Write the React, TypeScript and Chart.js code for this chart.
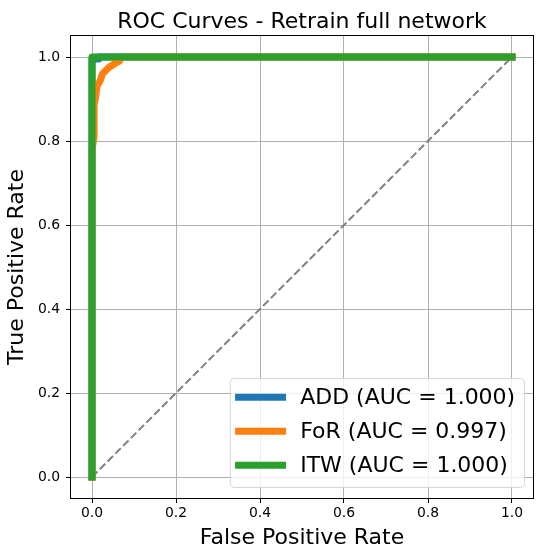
import { useEffect, useRef } from "react";
import { Chart, registerables } from "chart.js";

Chart.register(...registerables);

// Text
const chartTitle = "ROC Curves - Retrain full network";
const xAxisLabel = "False Positive Rate";
const yAxisLabel = "True Positive Rate";
const tickValues = [0, 0.2, 0.4, 0.6, 0.8, 1.0];

// Series meta
const seriesNames = ["ADD", "FoR", "ITW"];
const seriesAuc = [1.0, 0.997, 1.0];
const seriesColors = ["#1f77b4", "#ff7f0e", "#2ca02c"];

// ROC points (false positive rate, true positive rate)
const addFpr = [0, 0, 0.016, 0.016, 1];
const addTpr = [0, 0.995, 0.995, 1, 1];
const forFpr = [0, 0, 0.005, 0.005, 0.008, 0.012, 0.02, 0.025, 0.04, 0.055, 0.065, 0.07, 1];
const forTpr = [0, 0.78, 0.81, 0.886, 0.9, 0.93, 0.945, 0.96, 0.975, 0.985, 0.99, 1, 1];
const itwFpr = [0, 0, 1];
const itwTpr = [0, 1, 1];
const chanceFpr = [0, 1];
const chanceTpr = [0, 1];

const FONT = "'DejaVu Sans', sans-serif";

const zip = (xs: number[], ys: number[]) => xs.map((x, i) => ({ x, y: ys[i] }));

const framePlugin = {
  id: "frame",
  afterDatasetsDraw(chart: any) {
    const { ctx, chartArea: a } = chart;
    ctx.save();
    ctx.strokeStyle = "#000";
    ctx.lineWidth = 1;
    const l = Math.round(a.left) - 0.5;
    const t = Math.round(a.top) - 0.5;
    const r = Math.round(a.right) + 0.5;
    const b = Math.round(a.bottom) + 0.5;
    ctx.strokeRect(l, t, r - l, b - t);
    ctx.restore();
  },
};

const titlePlugin = {
  id: "plotTitle",
  afterDraw(chart: any) {
    const { ctx, chartArea: a } = chart;
    ctx.save();
    ctx.font = `22px ${FONT}`;
    ctx.fillStyle = "#000";
    ctx.textAlign = "center";
    ctx.textBaseline = "alphabetic";
    ctx.fillText(chartTitle, (a.left + a.right) / 2, a.top - 8.5);
    ctx.restore();
  },
};

const legendPlugin = {
  id: "rocLegend",
  afterDraw(chart: any) {
    const { ctx, chartArea: a } = chart;
    const items = chart.data.datasets.filter((d: any) => d.legendText);
    items.sort((p: any, q: any) => p.legendIndex - q.legendIndex);
    const fs = 22;
    const pad = 0.4 * fs;
    const handleLen = 2 * fs;
    const textPad = 0.8 * fs;
    const rowStep = 34;
    const textH = 23.5;
    ctx.save();
    ctx.font = `${fs}px ${FONT}`;
    const maxW = Math.max(...items.map((d: any) => ctx.measureText(d.legendText).width));
    const width = pad + handleLen + textPad + maxW + pad;
    const height = 2 * pad + (items.length - 1) * rowStep + textH;
    const right = a.right - 9;
    const bottom = a.bottom - 11;
    const left = right - width;
    const top = bottom - height;

    ctx.beginPath();
    ctx.roundRect(left + 0.5, top + 0.5, width, height, 4);
    ctx.fillStyle = "rgba(255,255,255,0.8)";
    ctx.fill();
    ctx.strokeStyle = "rgba(204,204,204,0.8)";
    ctx.lineWidth = 1;
    ctx.stroke();

    items.forEach((d: any, i: number) => {
      const cy = top + pad + 10.5 + i * rowStep;
      ctx.beginPath();
      ctx.strokeStyle = d.borderColor;
      ctx.lineWidth = 7;
      ctx.lineCap = "square";
      ctx.moveTo(left + pad, cy);
      ctx.lineTo(left + pad + handleLen, cy);
      ctx.stroke();
      ctx.fillStyle = "#000";
      ctx.textAlign = "left";
      ctx.textBaseline = "middle";
      ctx.fillText(d.legendText, left + pad + handleLen + textPad, cy + 1);
    });
    ctx.restore();
  },
};

export default function App() {
  const ref = useRef<HTMLCanvasElement>(null);

  useEffect(() => {
    document.body.style.margin = "0";
    const tickFont = { family: FONT, size: 13.9 };
    const seriesData = [zip(addFpr, addTpr), zip(forFpr, forTpr), zip(itwFpr, itwTpr)];

    const datasets: any[] = seriesNames.map((name, i) => ({
      label: name,
      legendText: `${name} (AUC = ${seriesAuc[i].toFixed(3)})`,
      legendIndex: i,
      data: seriesData[i],
      borderColor: seriesColors[i],
      backgroundColor: seriesColors[i],
      borderWidth: 7,
      borderCapStyle: "square",
      borderJoinStyle: "round",
      pointRadius: 0,
      tension: 0,
      fill: false,
      order: seriesNames.length - i,
    }));
    datasets.push({
      label: "chance",
      data: zip(chanceFpr, chanceTpr),
      borderColor: "#808080",
      borderWidth: 2,
      borderDash: [7.7, 3.3],
      pointRadius: 0,
      tension: 0,
      fill: false,
      order: seriesNames.length + 1,
    });

    const axisCommon = (title: string, titlePadding: any) => ({
      type: "linear" as const,
      min: -0.05,
      max: 1.05,
      afterBuildTicks: (scale: any) => {
        scale.ticks = tickValues.map((v) => ({ value: v }));
      },
      grid: {
        color: "#b0b0b0",
        lineWidth: 1,
        tickColor: "#000",
        tickLength: 5,
        drawTicks: true,
      },
      border: { display: false },
      title: {
        display: true,
        text: title,
        color: "#000",
        font: { family: FONT, size: 22 },
        padding: titlePadding,
      },
    });

    const chart = new Chart(ref.current!, {
      type: "line",
      data: { datasets },
      options: {
        animation: false,
        responsive: false,
        devicePixelRatio: 1,
        layout: { padding: { top: 36, right: 12, left: 0, bottom: 0 } },
        plugins: {
          legend: { display: false },
          title: { display: false },
          tooltip: { enabled: false },
        },
        scales: {
          x: {
            ...axisCommon(xAxisLabel, { top: 0, bottom: 8.8 }),
            position: "bottom",
            ticks: {
              color: "#000",
              font: tickFont,
              padding: 2.5,
              autoSkip: false,
              maxRotation: 0,
              callback: (v: any) => Number(v).toFixed(1),
            },
            afterFit: (scale: any) => {
              scale.height = 62;
            },
          },
          y: {
            ...axisCommon(yAxisLabel, { top: 4.4, bottom: 0 }),
            position: "left",
            ticks: {
              color: "#000",
              font: tickFont,
              padding: 6,
              autoSkip: false,
              callback: (v: any) => Number(v).toFixed(1),
            },
            afterFit: (scale: any) => {
              scale.width = 71;
            },
          },
        },
      } as any,
      plugins: [framePlugin, titlePlugin, legendPlugin],
    });

    return () => chart.destroy();
  }, []);

  return (
    <canvas
      ref={ref}
      width={545}
      height={560}
      style={{ display: "block", width: 545, height: 560 }}
    />
  );
}
